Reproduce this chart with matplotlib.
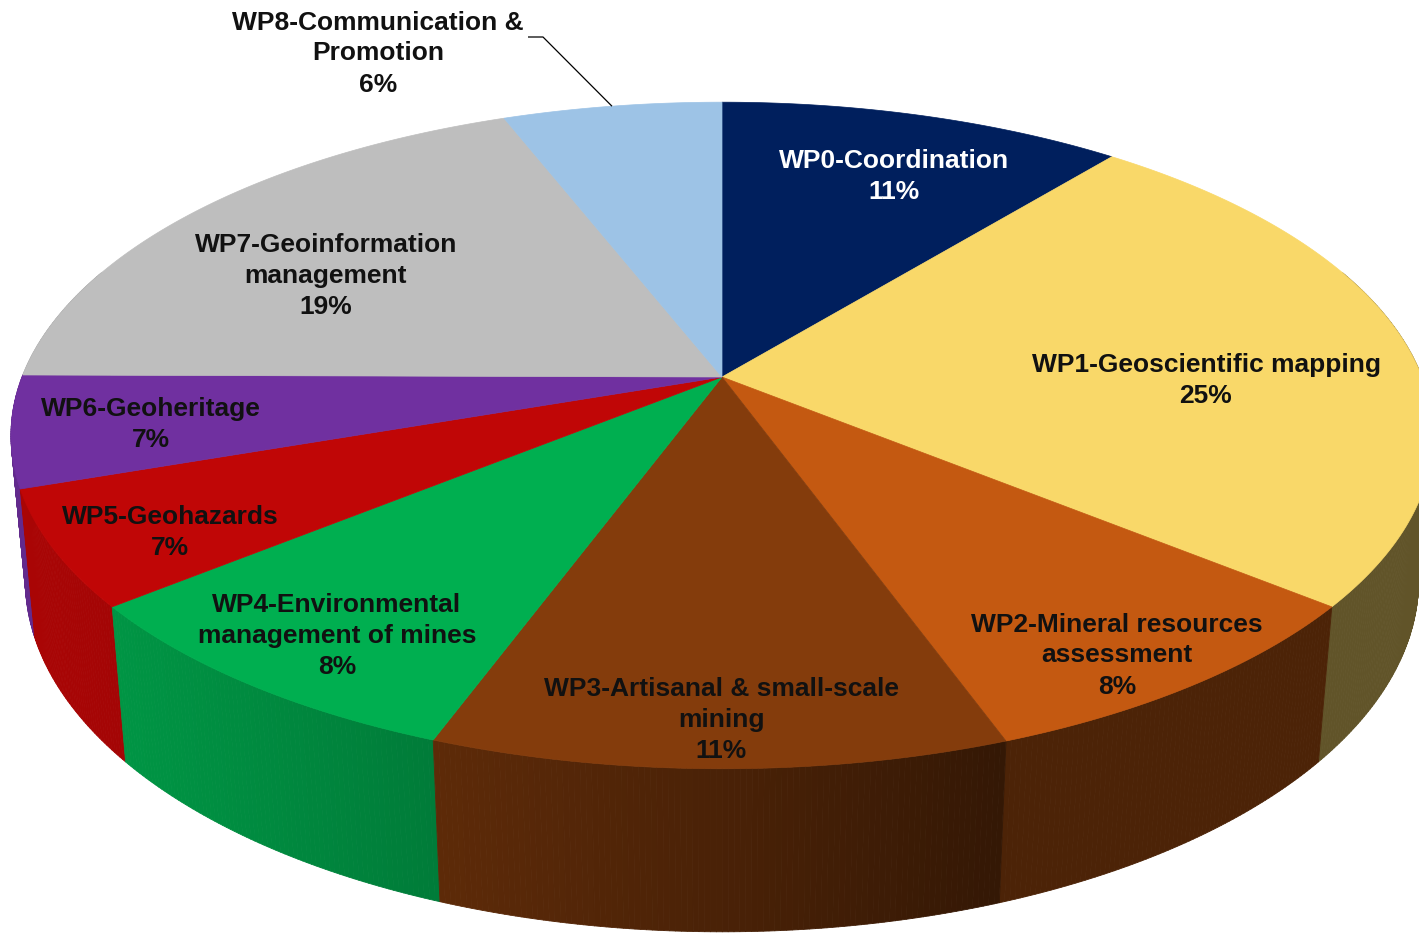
import numpy as np
import matplotlib
matplotlib.use("Agg")
import matplotlib.pyplot as plt
from matplotlib.collections import PolyCollection
from matplotlib.patches import Polygon
from matplotlib.colors import to_rgb

# ---------------- data ----------------
categories = [
    "WP0-Coordination",
    "WP1-Geoscientific mapping",
    "WP2-Mineral resources\nassessment",
    "WP3-Artisanal & small-scale\nmining",
    "WP4-Environmental\nmanagement of mines",
    "WP5-Geohazards",
    "WP6-Geoheritage",
    "WP7-Geoinformation\nmanagement",
    "WP8-Communication &\nPromotion",
]
shares = [10.9, 25.0, 8.6, 11.1, 8.5, 5.6, 5.4, 19.0, 5.9]
pct_labels = ["11%", "25%", "8%", "11%", "8%", "7%", "7%", "19%", "6%"]
colors = ["#001F5D", "#F9D869", "#C45911", "#843C0C", "#00AF50",
          "#C00606", "#7030A0", "#BEBEBE", "#9DC3E6"]
text_colors = ["white"] + ["#111111"] * 8

# ---------------- projection (3D pie, perspective) ----------------
CX, CY = 722.0, 377.0
A, B, G, K, C = 700.0, -256.9, 0.1754, -0.02, -153.1


def proj(phi_deg, z):
    p = np.radians(phi_deg)
    x, y = np.sin(p), np.cos(p)
    w = 1 + G * y + K * z
    return CX + A * x / w, (B * y + CY + C * z) / w


def shade(phi):
    return 0.39 + 0.49 * max(0.0, np.cos(np.radians(phi - 250)))


fig = plt.figure(figsize=(14.19, 9.36), dpi=100)
ax = fig.add_axes([0, 0, 1, 1])
ax.set_xlim(0, 1419)
ax.set_ylim(936, 0)
ax.axis("off")

total = sum(shares)
bounds = np.concatenate([[0], np.cumsum(shares)]) / total * 360.0

# side walls
quads, qcols, depths = [], [], []
for i in range(len(shares)):
    s, e = max(bounds[i], 70), min(bounds[i + 1], 290)
    if s >= e:
        continue
    n = max(2, int((e - s) / 0.4) + 1)
    ph = np.linspace(s, e, n)
    base = np.array(to_rgb(colors[i]))
    for p0, p1 in zip(ph[:-1], ph[1:]):
        t0, t1 = proj(p0, 0), proj(p1, 0)
        b0, b1 = proj(p0, -1), proj(p1, -1)
        quads.append([t0, t1, b1, b0])
        col = np.clip(base * shade((p0 + p1) / 2), 0, 1)
        qcols.append(col)
        depths.append(np.cos(np.radians((p0 + p1) / 2)))
order = np.argsort(depths)[::-1]
pc = PolyCollection([quads[j] for j in order],
                    facecolors=[qcols[j] for j in order],
                    edgecolors=[qcols[j] for j in order], linewidths=0.6)
ax.add_collection(pc)

# top faces
for i in range(len(shares)):
    ph = np.linspace(bounds[i], bounds[i + 1], 200)
    pts = [(CX, CY)] + [proj(p, 0) for p in ph]
    ax.add_patch(Polygon(pts, closed=True, facecolor=colors[i],
                         edgecolor=colors[i], linewidth=0.5))

# labels
label_centers = [(894, 174), (1206, 378), (1117, 653), (721, 717),
                 (337, 633), (170, 530), (151, 422), (326, 273), (378, 51)]
fs = 19
step = 31
for i, (cx, cy) in enumerate(label_centers):
    lines = categories[i].split("\n") + [pct_labels[i]]
    n = len(lines)
    for j, ln in enumerate(lines):
        yy = cy + (j - (n - 1) / 2) * step + 9.5
        ax.text(cx, yy, ln, ha="center", va="baseline", fontsize=fs,
                fontweight="bold", color=text_colors[i],
                family=["Liberation Sans", "DejaVu Sans"])

# leader line for WP8
mid8 = (bounds[8] + bounds[9]) / 2
ex, ey = proj(mid8, 0)
ax.plot([528, 543, ex], [37, 37, ey], color="black", lw=0.9,
        solid_capstyle="butt")

fig.savefig("out.png", dpi=100)
